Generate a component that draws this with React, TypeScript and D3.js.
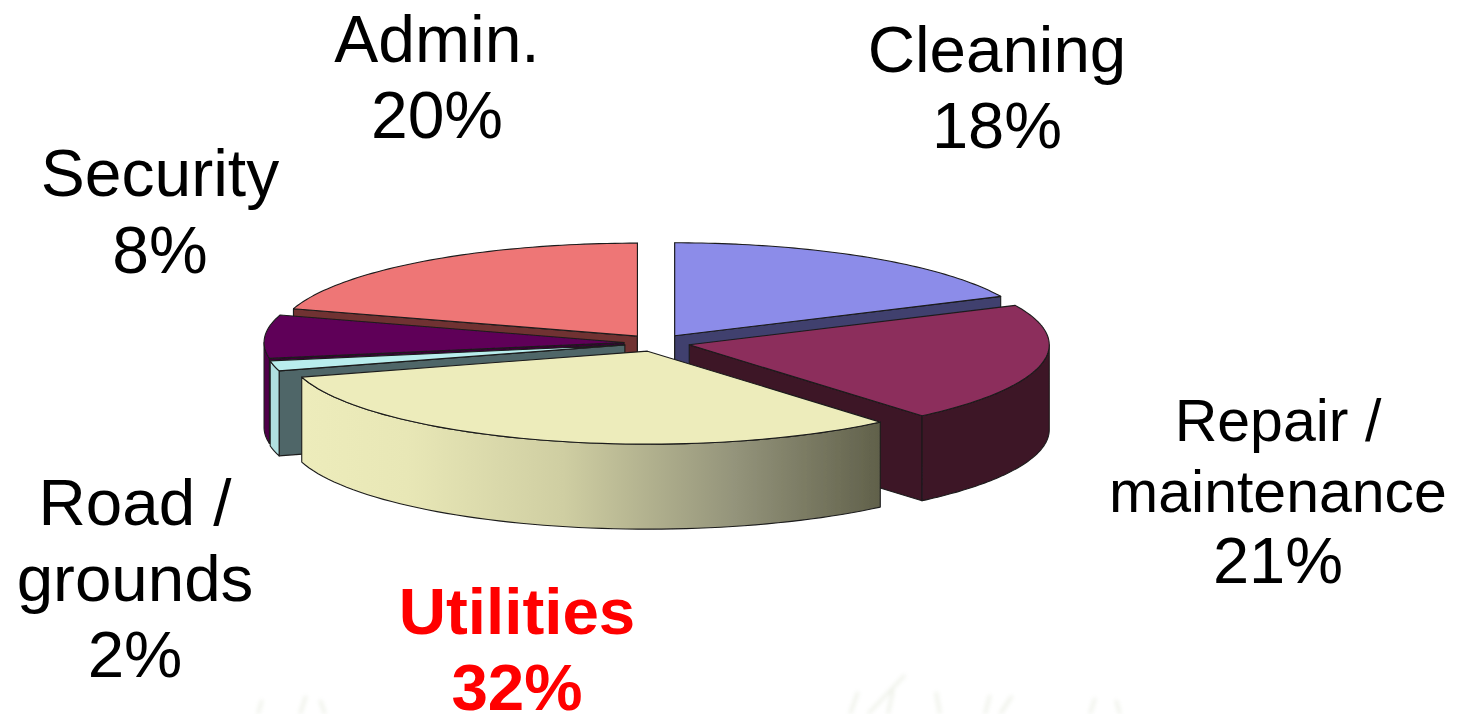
import * as d3 from "d3";

// shares, labels round to the printed percentages
const categories = ["Cleaning", "Repair / maintenance", "Utilities", "Road / grounds", "Security", "Admin."];
const shares = [18, 20.75, 31.65, 1.75, 7.5, 20.2];
const percentLabels = ["18%", "21%", "32%", "2%", "8%", "20%"];

const topColors = ["#8c8ce9", "#8c2d5c", "#edecbb", "#b9eded", "#5e0058", "#ee7676"];
const wallColors = ["#3f3f6e", "#3c1326", "#62624a", "#506668", "#3a0036", "#703030"];
const rimColors = ["#3f3f6e", "#3c1326", "url(#utilRim)", "#b0dfe0", "#4f004a", "#703030"];

const width = 1458;
const height = 714;

const cx = 657;
const cy = 343;
const rx = 360;
const ry = 93;
const depth = 85;
const explode = 33;

// label placement, one row per category: centre x, first baseline, line step, font sizes
const labelLayout = [
  { x: 997, y: 72, step: 76, size: 65.5, pctSize: 65 },
  { x: 1278, y: 441, step: 71, size: 59, pctSize: 65 },
  { x: 517, y: 634, step: 76, size: 65.5, pctSize: 65.5 },
  { x: 135, y: 525, step: 76, size: 65.5, pctSize: 65.5 },
  { x: 160, y: 196, step: 77, size: 66, pctSize: 66 },
  { x: 437, y: 62, step: 76, size: 66, pctSize: 66 },
];
const grassBlades = [
  [258, 714, 262, 700], [300, 714, 306, 696], [325, 714, 320, 700],
  [850, 714, 858, 692], [868, 714, 905, 675], [888, 714, 893, 690],
  [940, 714, 936, 692], [985, 714, 990, 695], [1000, 714, 1012, 696],
  [1090, 714, 1095, 698], [1120, 714, 1116, 700],
];

const project = (a: number, r: number, ox = 0, oy = 0): [number, number] => [
  ox + rx * r * Math.sin(a),
  oy - ry * r * Math.cos(a),
];

const line = d3.line<[number, number]>();
const arcPts = (a0: number, a1: number, ox: number, oy: number, dy = 0) =>
  d3.range(0, 61).map((i) => {
    const p = project(a0 + ((a1 - a0) * i) / 60, 1, ox, oy);
    return [p[0], p[1] + dy] as [number, number];
  });

const pie = d3.pie<number>().sort(null).startAngle(0).endAngle(2 * Math.PI);
const arcs = pie(shares);
const drawOrder = [5, 0, 4, 3, 1, 2];

const App = () => {
  const edge = { stroke: "#1c1c1c", strokeWidth: 1.1, strokeLinejoin: "round" as const };
  return (
    <svg
      width={width}
      height={height}
      style={{ position: "absolute", left: 0, top: 0, display: "block", background: "#fff" }}
      fontFamily="'Liberation Sans', Arial, sans-serif"
    >
      <defs>
        <linearGradient id="utilRim" gradientUnits="userSpaceOnUse" x1={303} x2={882} y1={0} y2={0}>
          <stop offset="0" stopColor="#edecbb" />
          <stop offset="0.18" stopColor="#e8e7b6" />
          <stop offset="0.45" stopColor="#cfcea2" />
          <stop offset="0.75" stopColor="#93937a" />
          <stop offset="1" stopColor="#60604a" />
        </linearGradient>
        <filter id="soft" x="-2%" y="-2%" width="104%" height="104%">
          <feGaussianBlur stdDeviation="0.55" />
        </filter>
        <filter id="haze" x="-20%" y="-20%" width="140%" height="140%">
          <feGaussianBlur stdDeviation="2.2" />
        </filter>
      </defs>

      <g filter="url(#haze)" stroke="#c9d2b8" strokeWidth={2.5} opacity={0.4}>
        {grassBlades.map((b, i) => (
          <line key={i} x1={b[0]} y1={b[1]} x2={b[2]} y2={b[3]} />
        ))}
      </g>

      <g filter="url(#soft)">
        {drawOrder.map((i) => {
          const d = arcs[i];
          const mid = (d.startAngle + d.endAngle) / 2;
          const off = project(mid, explode / rx, cx, cy);
          const ox = off[0];
          const oy = off[1];
          const start = project(d.startAngle, 1, ox, oy);
          const end = project(d.endAngle, 1, ox, oy);
          const a0 = Math.max(d.startAngle, Math.PI / 2);
          const a1 = Math.min(d.endAngle, (3 * Math.PI) / 2);
          const walls: [number, number][][] = [];
          if (Math.sin(d.startAngle) < 0.001) {
            walls.push([[ox, oy], start, [start[0], start[1] + depth], [ox, oy + depth]]);
          }
          if (Math.sin(d.endAngle) > -0.001) {
            walls.push([[ox, oy], end, [end[0], end[1] + depth], [ox, oy + depth]]);
          }
          return (
            <g key={categories[i]}>
              {walls.map((w, k) => (
                <path key={k} d={line(w) + "Z"} fill={wallColors[i]} {...edge} />
              ))}
              {a0 < a1 && (
                <path
                  d={line([...arcPts(a0, a1, ox, oy), ...arcPts(a0, a1, ox, oy, depth).reverse()]) + "Z"}
                  fill={rimColors[i]}
                  {...edge}
                />
              )}
              <path
                d={line([[ox, oy], ...arcPts(d.startAngle, d.endAngle, ox, oy)]) + "Z"}
                fill={topColors[i]}
                {...edge}
              />
            </g>
          );
        })}

        {categories.map((c, i) => {
          const l = labelLayout[i];
          const rows = c.includes(" / ") ? [c.split(" / ")[0] + " /", c.split(" / ")[1]] : [c];
          const isKey = c === "Utilities";
          return (
            <text
              key={c}
              textAnchor="middle"
              fontWeight={isKey ? 700 : 400}
              fill={isKey ? "#ff0000" : "#000"}
            >
              {rows.map((t, k) => (
                <tspan key={k} x={l.x} y={l.y + k * l.step} fontSize={l.size}>
                  {t}
                </tspan>
              ))}
              <tspan x={l.x} y={l.y + rows.length * l.step} fontSize={l.pctSize}>
                {percentLabels[i]}
              </tspan>
            </text>
          );
        })}
      </g>
    </svg>
  );
};

export default App;
